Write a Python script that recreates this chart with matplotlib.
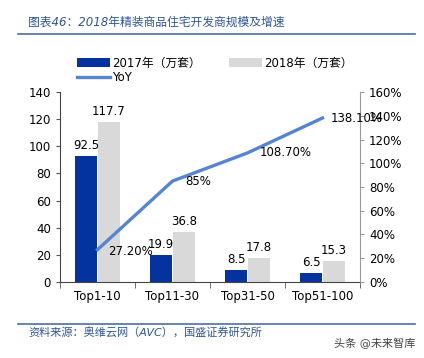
import matplotlib
matplotlib.use('Agg')
import matplotlib.pyplot as plt
from matplotlib.lines import Line2D
import numpy as np

plt.rcParams['font.family'] = ['DejaVu Sans', 'Noto Sans CJK SC']

# data
categories = ['Top1-10', 'Top11-30', 'Top31-50', 'Top51-100']
units_2017 = [92.5, 19.9, 8.5, 6.5]
units_2018 = [117.7, 36.8, 17.8, 15.3]
yoy = [27.2, 85.0, 108.7, 138.1]
yoy_labels = ['27.20%', '85%', '108.70%', '138.10%']

c2017 = '#0433A0'
c2018 = '#D9D9D9'
cline = '#5585D2'
blue_txt = '#2F5597'

fig = plt.figure(figsize=(4.24, 3.58), dpi=100)
ax = fig.add_axes([0.1415, 0.2123, 0.7075, 0.5307])
ax2 = ax.twinx()

x = np.arange(len(categories))
w = 0.29
b1 = ax.bar(x - 0.15, units_2017, w, color=c2017, label='2017年（万套）')
b2 = ax.bar(x + 0.15, units_2018, w, color=c2018, label='2018年（万套）')
for bars, vals in ((b1, units_2017), (b2, units_2018)):
    for r, v in zip(bars, vals):
        ax.annotate(f'{v}', (r.get_x() + r.get_width() / 2, v),
                    xytext=(0, 4), textcoords='offset pixels',
                    ha='center', va='bottom', fontsize=8.5)

ln, = ax2.plot(x, yoy, color=cline, lw=2.4, label='YoY')
offs = [(33, -2), (26, 0), (38, 0), (34, 0)]
for xi, v, t, o in zip(x, yoy, yoy_labels, offs):
    ax2.annotate(t, (xi, v), xytext=o, textcoords='offset pixels',
                 ha='center', va='center', fontsize=8.5)

ax.set_xlim(-0.5, 3.5)
ax.set_ylim(0, 140)
ax.set_yticks(range(0, 141, 20))
ax2.set_ylim(0, 160)
ax2.set_yticks(range(0, 161, 20))
ax2.set_yticklabels([f'{v}%' for v in range(0, 161, 20)])

ax.set_xticks(x)
ax.set_xticklabels(categories)
ax.set_xticks(np.arange(-0.5, 3.6, 1), minor=True)
ax.tick_params(axis='x', which='major', length=0, labelsize=8.5, pad=6)
ax.tick_params(axis='x', which='minor', length=4, direction='out', color='#555555')
ax.tick_params(axis='y', labelsize=8.5, length=3, color='#555555')
ax2.tick_params(axis='y', labelsize=8.5, length=3, color='#999999')

for a in (ax, ax2):
    a.spines['top'].set_visible(False)
ax.spines['right'].set_visible(False)
ax.spines['left'].set_color('#444444')
ax.spines['bottom'].set_color('#444444')
ax2.spines['left'].set_visible(False)
ax2.spines['bottom'].set_visible(False)
ax2.spines['right'].set_color('#999999')

fig.legend(handles=[b1, ln, b2], ncol=2, loc='upper left',
           bbox_to_anchor=(0.17, 0.855), frameon=False, fontsize=8.5,
           handlelength=2.8, handleheight=0.8, handletextpad=0.2,
           columnspacing=2.4, labelspacing=0.15, borderaxespad=0)

fig.text(0.066, 0.938, '图表46：2018年精装商品住宅开发商规模及增速',
         color=blue_txt, fontsize=8.5, style='italic',
         ha='left', va='center')
fig.add_artist(Line2D([0.043, 0.979], [0.905, 0.905], color='#4A6FA5', lw=1.2))
fig.add_artist(Line2D([0.043, 0.979], [0.095, 0.095], color='#4A6FA5', lw=1.2))
fig.text(0.066, 0.07, '资料来源：奥维云网（AVC），国盛证券研究所',
         color=blue_txt, fontsize=8, style='italic', ha='left', va='center')
fig.text(0.98, 0.042, '头条 @未来智库', color='#444444', fontsize=8,
         ha='right', va='center')

fig.savefig('out.png', dpi=100)
